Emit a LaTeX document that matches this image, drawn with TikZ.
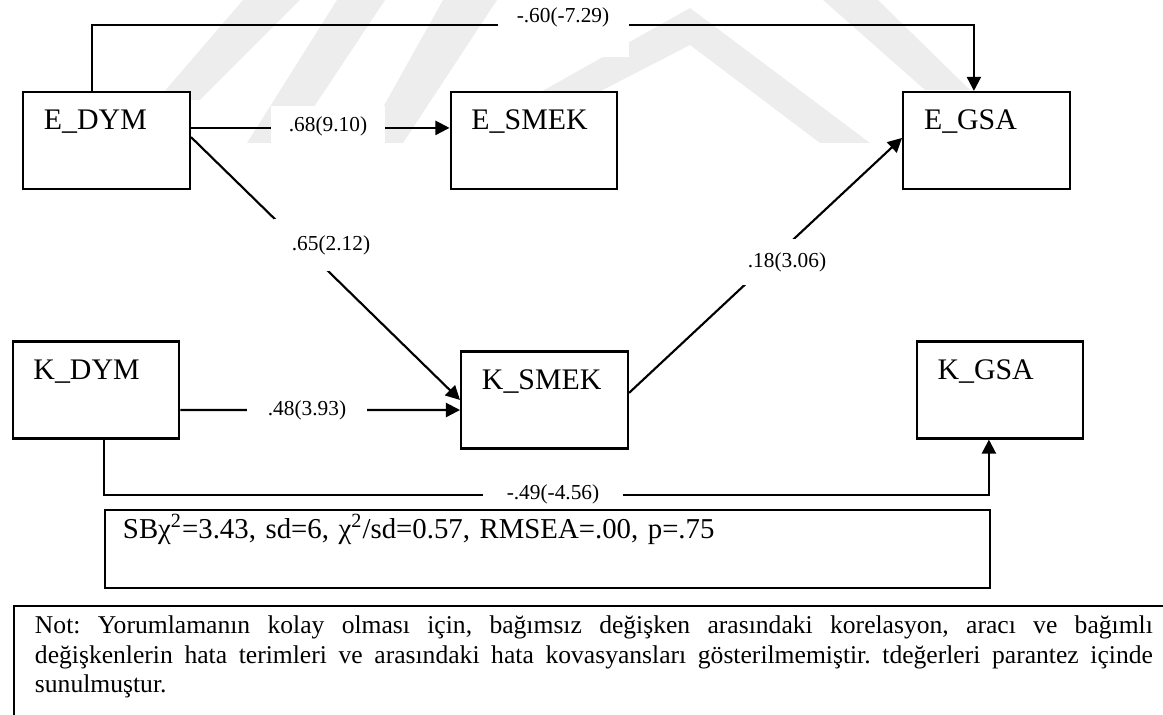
\documentclass[tikz,border=0pt]{standalone}
\usepackage{fontspec}
\setmainfont{Liberation Serif}
\usetikzlibrary{arrows.meta,calc}
\definecolor{wmark}{HTML}{EDEDED}
\frenchspacing
\tikzset{
  var/.style    ={draw=black, line width=1pt, fill=white, align=left,
                  text width=58.6pt, inner xsep=9.8pt, inner ysep=0pt,
                  text height=17.8pt, text depth=27.7pt,
                  font=\fontsize{14}{16}\selectfont},
  pth/.style    ={-{Triangle[length=6.6pt,width=6.6pt]}, line width=1pt},
  coef/.style   ={fill=white, inner sep=0pt, font=\fontsize{10}{12}\selectfont},
  fitbox/.style ={draw=black, line width=1pt, align=left, anchor=north west,
                  text width=398pt, inner xsep=8.4pt, inner ysep=0pt,
                  text height=13.4pt, text depth=23.2pt,
                  font=\fontsize{13.5}{16}\selectfont},
  notebox/.style={draw=black, line width=1pt, align=justify, anchor=north west,
                  text width=524pt, inner xsep=9.8pt, inner ysep=4.4pt,
                  text height=8.3pt, text depth=45pt,
                  font=\fontsize{12}{14}\selectfont},
}

\begin{document}
\begin{tikzpicture}[x=0.46875pt, y=-0.46875pt]
  \useasboundingbox (0,0) rectangle (1163,715);
  \clip (0,0) rectangle (1163,715);

  % ---- faint watermark ----
  \fill[wmark] (157,100) -- (200,100) -- (300,0) -- (243,0) -- cycle;
  \fill[wmark] (247,143) -- (290,143) -- (385,0) -- (337,0) -- cycle;
  \fill[wmark] (363,143) -- (403,143) -- (497,0) -- (443,0) -- cycle;
  \fill[wmark] (450,143) -- (690,8) -- (870,143) -- (820,143)
               -- (690,45) -- (500,143) -- cycle;
  \fill[wmark] (823,0) -- (878,0) -- (970,90) -- (925,90) -- cycle;

  % ---- variables ----
  \node[var] (edym)  at (106.5,140.5) {E\_DYM};
  \node[var] (esmek) at (534,140.5)   {E\_SMEK};
  \node[var] (egsa)  at (986.5,140.5) {E\_GSA};
  \node[var] (kdym)  at (96,390)      {K\_DYM};
  \node[var] (ksmek) at (544.5,400)   {K\_SMEK};
  \node[var] (kgsa)  at (1000,390)    {K\_GSA};

  % ---- paths ----
  \draw[pth] ([xshift=-7pt]edym.north) -- ++(0,-66) -| ([xshift=-5.9pt]egsa.north);
  \draw[pth] ([yshift=5.9pt]edym.east) -- ([yshift=5.9pt]esmek.west);
  \draw[pth] ([yshift=1.6pt]edym.east) -- (ksmek.west);
  \draw[pth] ([yshift=-9.4pt]kdym.east) -- ([yshift=-4.7pt]ksmek.west);
  \draw[pth] ([yshift=3.3pt]ksmek.east) -- ([yshift=1.2pt]egsa.west);
  \draw[pth] ([xshift=3.75pt]kdym.south) -- ++(0,55) -| ([xshift=-5.2pt]kgsa.south);

  % ---- coefficients (t values) ----
  \node[coef, minimum width=61.4pt, text height=10.3pt, text depth=16pt, anchor=north]
       (c60) at (563,0) {-.60(-7.29)};
  \node[coef, minimum width=53.4pt, minimum height=18.75pt] (c68) at (328,126) {.68(9.10)};
  \node[coef, minimum width=53.4pt, minimum height=24.8pt]  (c65) at (331,245) {.65(2.12)};
  \node[coef, minimum width=44.5pt, minimum height=21.6pt]  (c18) at (787,262) {.18(3.06)};
  \node[coef, minimum width=55.8pt, minimum height=18.75pt] (c48) at (307,410) {.48(3.93)};
  \node[coef, minimum width=65.2pt, minimum height=14pt]    (c49) at (553,494) {-.49(-4.56)};

  % ---- fit indices ----
  \node[fitbox] (fit) at (104,509)
      {SB{}χ\textsuperscript{2}=3.43, sd=6, χ\textsuperscript{2}/sd=0.57, RMSEA=.00, p=.75};

  % ---- note ----
  \node[notebox] (note) at (13,605)
      {\tolerance=10000 Not: Yorumlamanın kolay olması için, bağımsız değişken arasındaki
       korelasyon, aracı ve bağımlı\linebreak değişkenlerin hata terimleri ve arasındaki
       hata kovasyansları gösterilmemiştir. tdeğerleri parantez içinde\linebreak
       sunulmuştur.};

\end{tikzpicture}
\end{document}
